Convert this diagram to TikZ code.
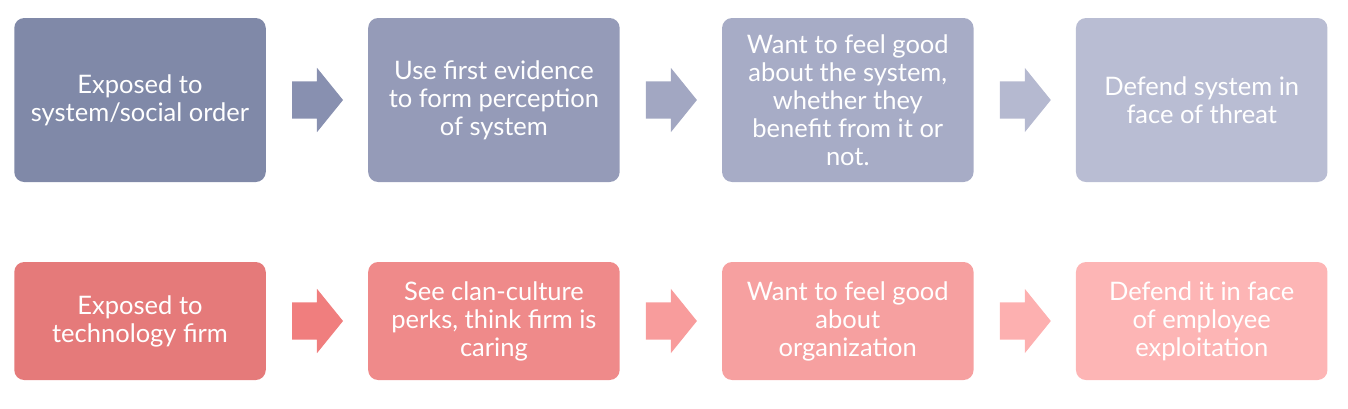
\documentclass[tikz,border=0pt]{standalone}
\usepackage{fontspec}
\setmainfont{Lato}
\usepackage{tikz}
\usetikzlibrary{shapes,arrows,positioning,calc}

\definecolor{sysA}{HTML}{8089A8}
\definecolor{sysB}{HTML}{959BB8}
\definecolor{sysC}{HTML}{A7ACC6}
\definecolor{sysD}{HTML}{B9BDD3}
\definecolor{sysArrA}{HTML}{8890B0}
\definecolor{sysArrB}{HTML}{A2A7C2}
\definecolor{sysArrC}{HTML}{B5B9D0}
\definecolor{firmA}{HTML}{E57A7A}
\definecolor{firmB}{HTML}{EF8A8A}
\definecolor{firmC}{HTML}{F6A0A0}
\definecolor{firmD}{HTML}{FDB5B5}
\definecolor{firmArrA}{HTML}{F07E7E}
\definecolor{firmArrB}{HTML}{F89C9C}
\definecolor{firmArrC}{HTML}{FDB0B0}

\begin{document}
\begin{tikzpicture}[
    x=1pt, y=-1pt,
    stepbox/.style={rectangle, rounded corners=10pt, text=white, align=center, minimum width=251.5pt, inner sep=0pt, font=\fontsize{25.5}{28}\selectfont},
    toprow/.style={stepbox, minimum height=164pt},
    lowrow/.style={stepbox, minimum height=118pt},
    blockarrow/.style={single arrow, minimum height=51pt, single arrow head extend=13.5pt, single arrow tip angle=102, inner xsep=0pt, inner ysep=18.5pt, xshift=-7pt}
]
\useasboundingbox (0,0) rectangle (1348,408);

% --- System justification ---
\node[toprow, fill=sysA] (sys1) at (140,100) {Exposed to\\system/social order};
\node[toprow, fill=sysB, right=102pt of sys1] (sys2) {Use first evidence\\to form perception\\of system};
\node[toprow, fill=sysC, right=102pt of sys2] (sys3) {Want to feel good\\about the system,\\whether they\\benefit from it or\\not.};
\node[toprow, fill=sysD, right=102pt of sys3] (sys4) {Defend system in\\face of threat};

% --- Technology firm ---
\node[lowrow, fill=firmA] (firm1) at (140,321) {Exposed to\\technology firm};
\node[lowrow, fill=firmB, right=102pt of firm1] (firm2) {See clan-culture\\perks, think firm is\\caring};
\node[lowrow, fill=firmC, right=102pt of firm2] (firm3) {Want to feel good\\about\\organization};
\node[lowrow, fill=firmD, right=102pt of firm3] (firm4) {Defend it in face\\of employee\\exploitation};

% --- Arrows ---
\node[blockarrow, fill=sysArrA] (sysarr1) at ($(sys1.east)!0.5!(sys2.west)$) {};
\node[blockarrow, fill=sysArrB] (sysarr2) at ($(sys2.east)!0.5!(sys3.west)$) {};
\node[blockarrow, fill=sysArrC] (sysarr3) at ($(sys3.east)!0.5!(sys4.west)$) {};
\node[blockarrow, fill=firmArrA] (firmarr1) at ($(firm1.east)!0.5!(firm2.west)$) {};
\node[blockarrow, fill=firmArrB] (firmarr2) at ($(firm2.east)!0.5!(firm3.west)$) {};
\node[blockarrow, fill=firmArrC] (firmarr3) at ($(firm3.east)!0.5!(firm4.west)$) {};

\end{tikzpicture}
\end{document}
